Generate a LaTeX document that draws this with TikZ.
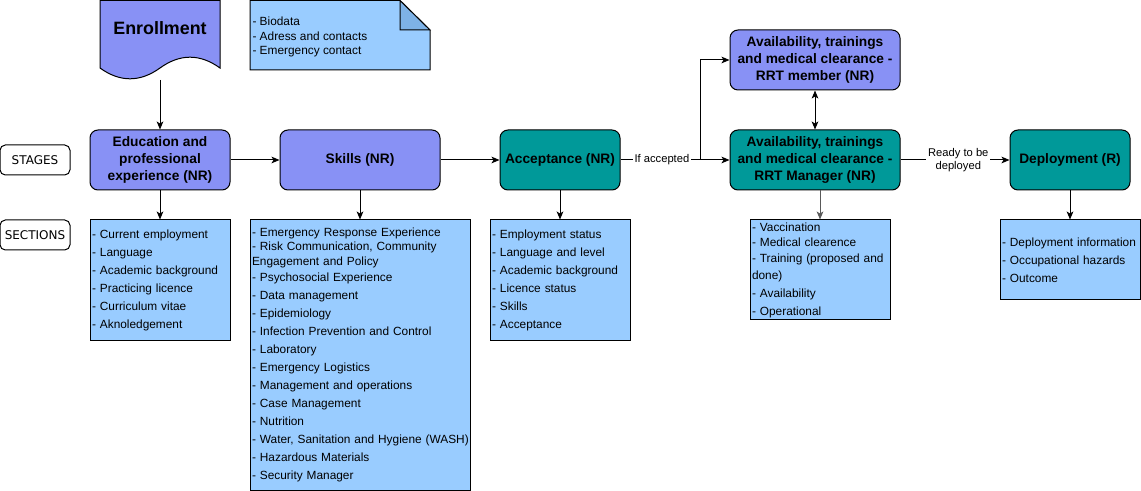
\documentclass[tikz,border=0pt]{standalone}
\usepackage{fontspec}
\setmainfont{Liberation Sans}
\newfontfamily\tagfont{DejaVu Sans}
\usepackage{tikz}
\usetikzlibrary{arrows.meta}
\usetikzlibrary{calc}
\usetikzlibrary{positioning}

\definecolor{nrpurple}{RGB}{136,145,245}
\definecolor{rteal}{RGB}{0,153,153}
\definecolor{listblue}{RGB}{153,204,255}
\definecolor{foldblue}{RGB}{126,178,230}

\begin{document}
\begin{tikzpicture}
	[
	x=0.75pt, y=-0.75pt, line width=0.75pt,
  > = {Stealth[length=6pt,width=5pt,inset=1.5pt]},
  stage/.style = {draw,rounded corners=6pt,align=center,inner sep=0pt,minimum height=45pt,
    font=\fontsize{10.3}{12.75}\selectfont\bfseries},
  nr stage/.style = {stage,fill=nrpurple},
  r stage/.style = {stage,fill=rteal},
  tag/.style = {draw,rounded corners=4pt,minimum width=52.5pt,minimum height=22.5pt,inner sep=0pt,
    font=\tagfont\fontsize{9}{10}\selectfont},
  section/.style = {draw,fill=listblue,inner xsep=1.5pt,inner ysep=0pt,align=left,
    font=\fontsize{8.9}{13.5}\selectfont},
  edge label/.style = {fill=white,inner sep=1.5pt,align=center,font=\fontsize{8.4}{10}\selectfont}
  ]
	\useasboundingbox (0,0) rectangle (1141,491);

	\coordinate (@edu) at (160,160);
	\coordinate (@skills) at (360,160);
	\coordinate (@accept) at (560,160);
	\coordinate (@member) at (815,60);
	\coordinate (@manager) at (815,160);
	\coordinate (@deploy) at (1070,160);
	\coordinate (fork) at (700,160);
	\coordinate (enroll foot) at (160,80);

	% enrollment document and note
	\draw[fill=nrpurple] (100,0.5) -- (220,0.5) -- (220,68)
	  .. controls (200,53.6) and (180,53.6) .. (160,68)
	  .. controls (140,82.4) and (120,82.4) .. (100,68) -- cycle;
	\node[font=\fontsize{13.4}{15}\selectfont\bfseries] (enroll) at (160,28) {Enrollment};

	\draw[fill=listblue] (250,0.5) -- (400,0.5) -- (430,30) -- (430,70) -- (250,70) -- cycle;
	\draw[fill=foldblue] (400,0.5) -- (400,30) -- (430,30) -- cycle;
	\node[anchor=west,align=left,inner xsep=1.5pt,font=\fontsize{8.9}{10.8}\selectfont] (notes) at (250,37)
	  {- Biodata\\- Adress and contacts\\- Emergency contact};

	\node[tag] (stages) at (35,160) {STAGES};
	\node[tag] (sections) at (35,235) {SECTIONS};

	\node[nr stage,minimum width=105pt] (edu) at (@edu) {Education and\\professional\\experience (NR)};
	\node[nr stage,minimum width=120pt] (skills) at (@skills) {Skills (NR)};
	\node[r stage,minimum width=90pt] (accept) at (@accept) {Acceptance (NR)};
	\node[nr stage,minimum width=127.5pt] (member) at (@member) {Availability, trainings\\and medical clearance -\\RRT member (NR)};
	\node[r stage,minimum width=127.5pt] (manager) at (@manager) {Availability, trainings\\and medical clearance -\\RRT Manager (NR)};
	\node[r stage,minimum width=90pt] (deploy) at (@deploy) {Deployment (R)};

	\node[section,text width=102pt,minimum height=90pt] (edulist) at (160,280)
	  {- Current employment\\- Language\\- Academic background\\- Practicing licence\\- Curriculum vitae\\- Aknoledgement};
	\node[section,text width=162pt,minimum height=202.5pt] (skilllist) at (360,355)
	  {- Emergency Response Experience\\[-3pt]
	   - Risk Communication, Community\\[-2.25pt]
	   Engagement and Policy\\[-1.5pt]
	   - Psychosocial Experience\\- Data management\\- Epidemiology\\
	   - Infection Prevention and Control\\- Laboratory\\- Emergency Logistics\\
	   - Management and operations\\- Case Management\\- Nutrition\\
	   \mbox{- Water, Sanitation and Hygiene (WASH)}\\- Hazardous Materials\\- Security Manager};
	\node[section,text width=102pt,minimum height=90pt] (acclist) at (560,280)
	  {- Employment status\\- Language and level\\- Academic background\\- Licence status\\- Skills\\- Acceptance};
	\node[section,text width=102pt,minimum height=75pt] (mgrlist) at (820,270)
	  {- Vaccination\\[-2.25pt]- Medical clearence\\[-1.5pt]- Training (proposed and\\[-0.75pt]
	   done)\\- Availability\\- Operational};
	\node[section,text width=102pt,minimum height=60pt] (deplist) at (1070,260)
	  {- Deployment information\\- Occupational hazards\\- Outcome};

	\draw[->] (enroll foot) -- (edu);
	\draw[->] (edu) -- (skills);
	\draw[->] (skills) -- (accept);
	\draw[->] (accept) -- node[edge label,pos=0.38] {If accepted} (manager);
	\draw[->] (fork) |- (member);
	\draw[<->] (member) -- (manager);
	\draw[->] (manager) -- node[edge label,pos=0.53] {Ready to be\\deployed} (deploy);

	\draw[->] (edu) -- (edulist);
	\draw[->] (skills) -- (skilllist);
	\draw[->] (accept) -- (acclist);
	\draw[->,draw=black!65] (manager.south -| mgrlist.north) -- (mgrlist);
	\draw[->] (deploy) -- (deplist);

\end{tikzpicture}
\end{document}
